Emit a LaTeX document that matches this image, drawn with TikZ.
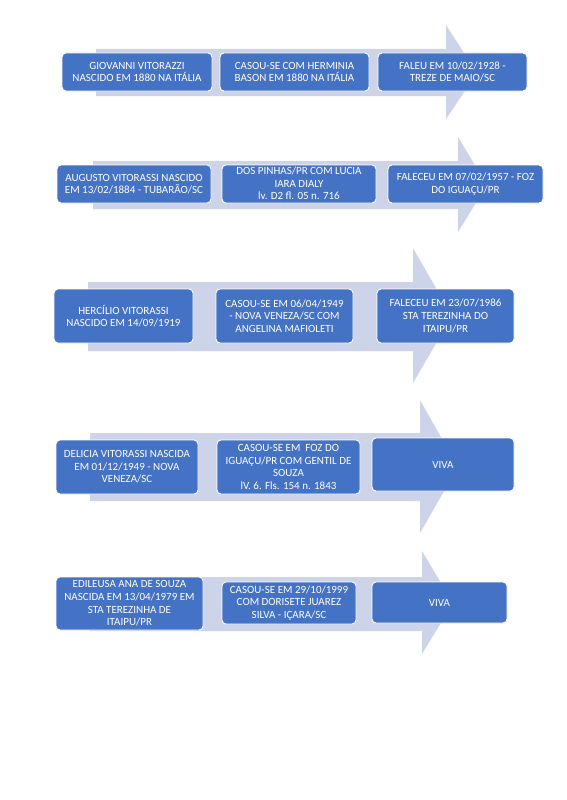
\documentclass[tikz,border=0pt]{standalone}
\usepackage{fontspec}
\setmainfont{Carlito}
\definecolor{boxblue}{HTML}{4472C4}
\definecolor{arrowfill}{HTML}{CDD4EA}
\begin{document}
\begin{tikzpicture}[x=1pt,y=-1pt,
  stepbox/.style={draw=white, line width=0.9pt, fill=boxblue, rounded corners=4pt,
    text=white, align=center, inner sep=1pt, font=\fontsize{11}{12.6}\selectfont},
  arrowshape/.style={fill=arrowfill, draw=none}]
\useasboundingbox (0,0) rectangle (566,800);
\fill[white] (0,0) rectangle (566,800);

% helper: box from corners
\newcommand{\gbox}[6]{% name, x1,y1,x2,y2, text
  \node[stepbox, minimum width={#4-#2}, minimum height={#5-#3}] (#1) at ({(#2+#4)/2},{(#3+#5)/2}) {#6};}

% Row 1
\fill[arrowshape] (96,49) -- (446,49) -- (446,25) -- (477,73) -- (446,119) -- (446,96) -- (96,96) -- cycle;
\gbox{a1}{62}{53}{212}{91}{GIOVANNI VITORAZZI\\NASCIDO EM 1880 NA ITÁLIA}
\gbox{a2}{220}{53}{369}{91}{CASOU-SE COM HERMINIA\\BASON EM 1880 NA ITÁLIA}
\gbox{a3}{378}{53}{527}{91}{FALEU EM 10/02/1928 -\\TREZE DE MAIO/SC}

% Row 2
\fill[arrowshape] (93,161) -- (458,161) -- (458,137) -- (487,185) -- (458,232) -- (458,209) -- (93,209) -- cycle;
\gbox{b1}{57}{165}{211}{203}{AUGUSTO VITORASSI NASCIDO\\EM 13/02/1884 - TUBARÃO/SC}
\gbox{b2}{222}{165}{376}{203}{}
\node[text=white, align=center, inner sep=0pt, font=\fontsize{11}{12.6}\selectfont, anchor=south] (b2t) at ([yshift=3.5pt]b2.south) {CASOU-SE EM .. SÃO JOSÉ\\DOS PINHAS/PR COM LUCIA\\IARA DIALY\\lv. D2 fl. 05 n. 716};
\gbox{b3}{388}{165}{543}{203}{FALECEU EM 07/02/1957 - FOZ\\DO IGUAÇU/PR}

% Row 3
\fill[arrowshape] (88,282) -- (413,282) -- (413,248) -- (452,316) -- (413,383) -- (413,351) -- (88,351) -- cycle;
\gbox{c1}{54}{289}{193}{343}{HERCÍLIO VITORASSI\\NASCIDO EM 14/09/1919}
\gbox{c2}{216}{289}{353}{343}{CASOU-SE EM 06/04/1949\\- NOVA VENEZA/SC COM\\ANGELINA MAFIOLETI}
\gbox{c3}{377}{289}{514}{343}{FALECEU EM 23/07/1986\\STA TEREZINHA DO\\ITAIPU/PR}

% Row 4
\fill[arrowshape] (90,433) -- (420,433) -- (420,400) -- (458,467) -- (420,533) -- (420,501) -- (90,501) -- cycle;
\gbox{d1}{56}{440}{198}{494}{DELICIA VITORASSI NASCIDA\\EM 01/12/1949 - NOVA\\VENEZA/SC}
\gbox{d2}{217}{440}{360}{494}{CASOU-SE EM\ \ FOZ DO\\IGUAÇU/PR COM GENTIL DE\\SOUZA\\lV. 6. Fls. 154 n. 1843}
\gbox{d3}{372}{438}{514}{491}{VIVA}

% Row 5
\fill[arrowshape] (90,577) -- (422,577) -- (422,551) -- (453,603) -- (422,654) -- (422,631) -- (90,631) -- cycle;
\gbox{e1}{56}{577}{203}{630}{EDILEUSA ANA DE SOUZA\\NASCIDA EM 13/04/1979 EM\\STA TEREZINHA DE\\ITAIPU/PR}
\gbox{e2}{222}{582}{356}{624}{CASOU-SE EM 29/10/1999\\COM DORISETE JUAREZ\\SILVA - IÇARA/SC}
\gbox{e3}{372}{582}{507}{623}{VIVA}
\end{tikzpicture}
\end{document}
